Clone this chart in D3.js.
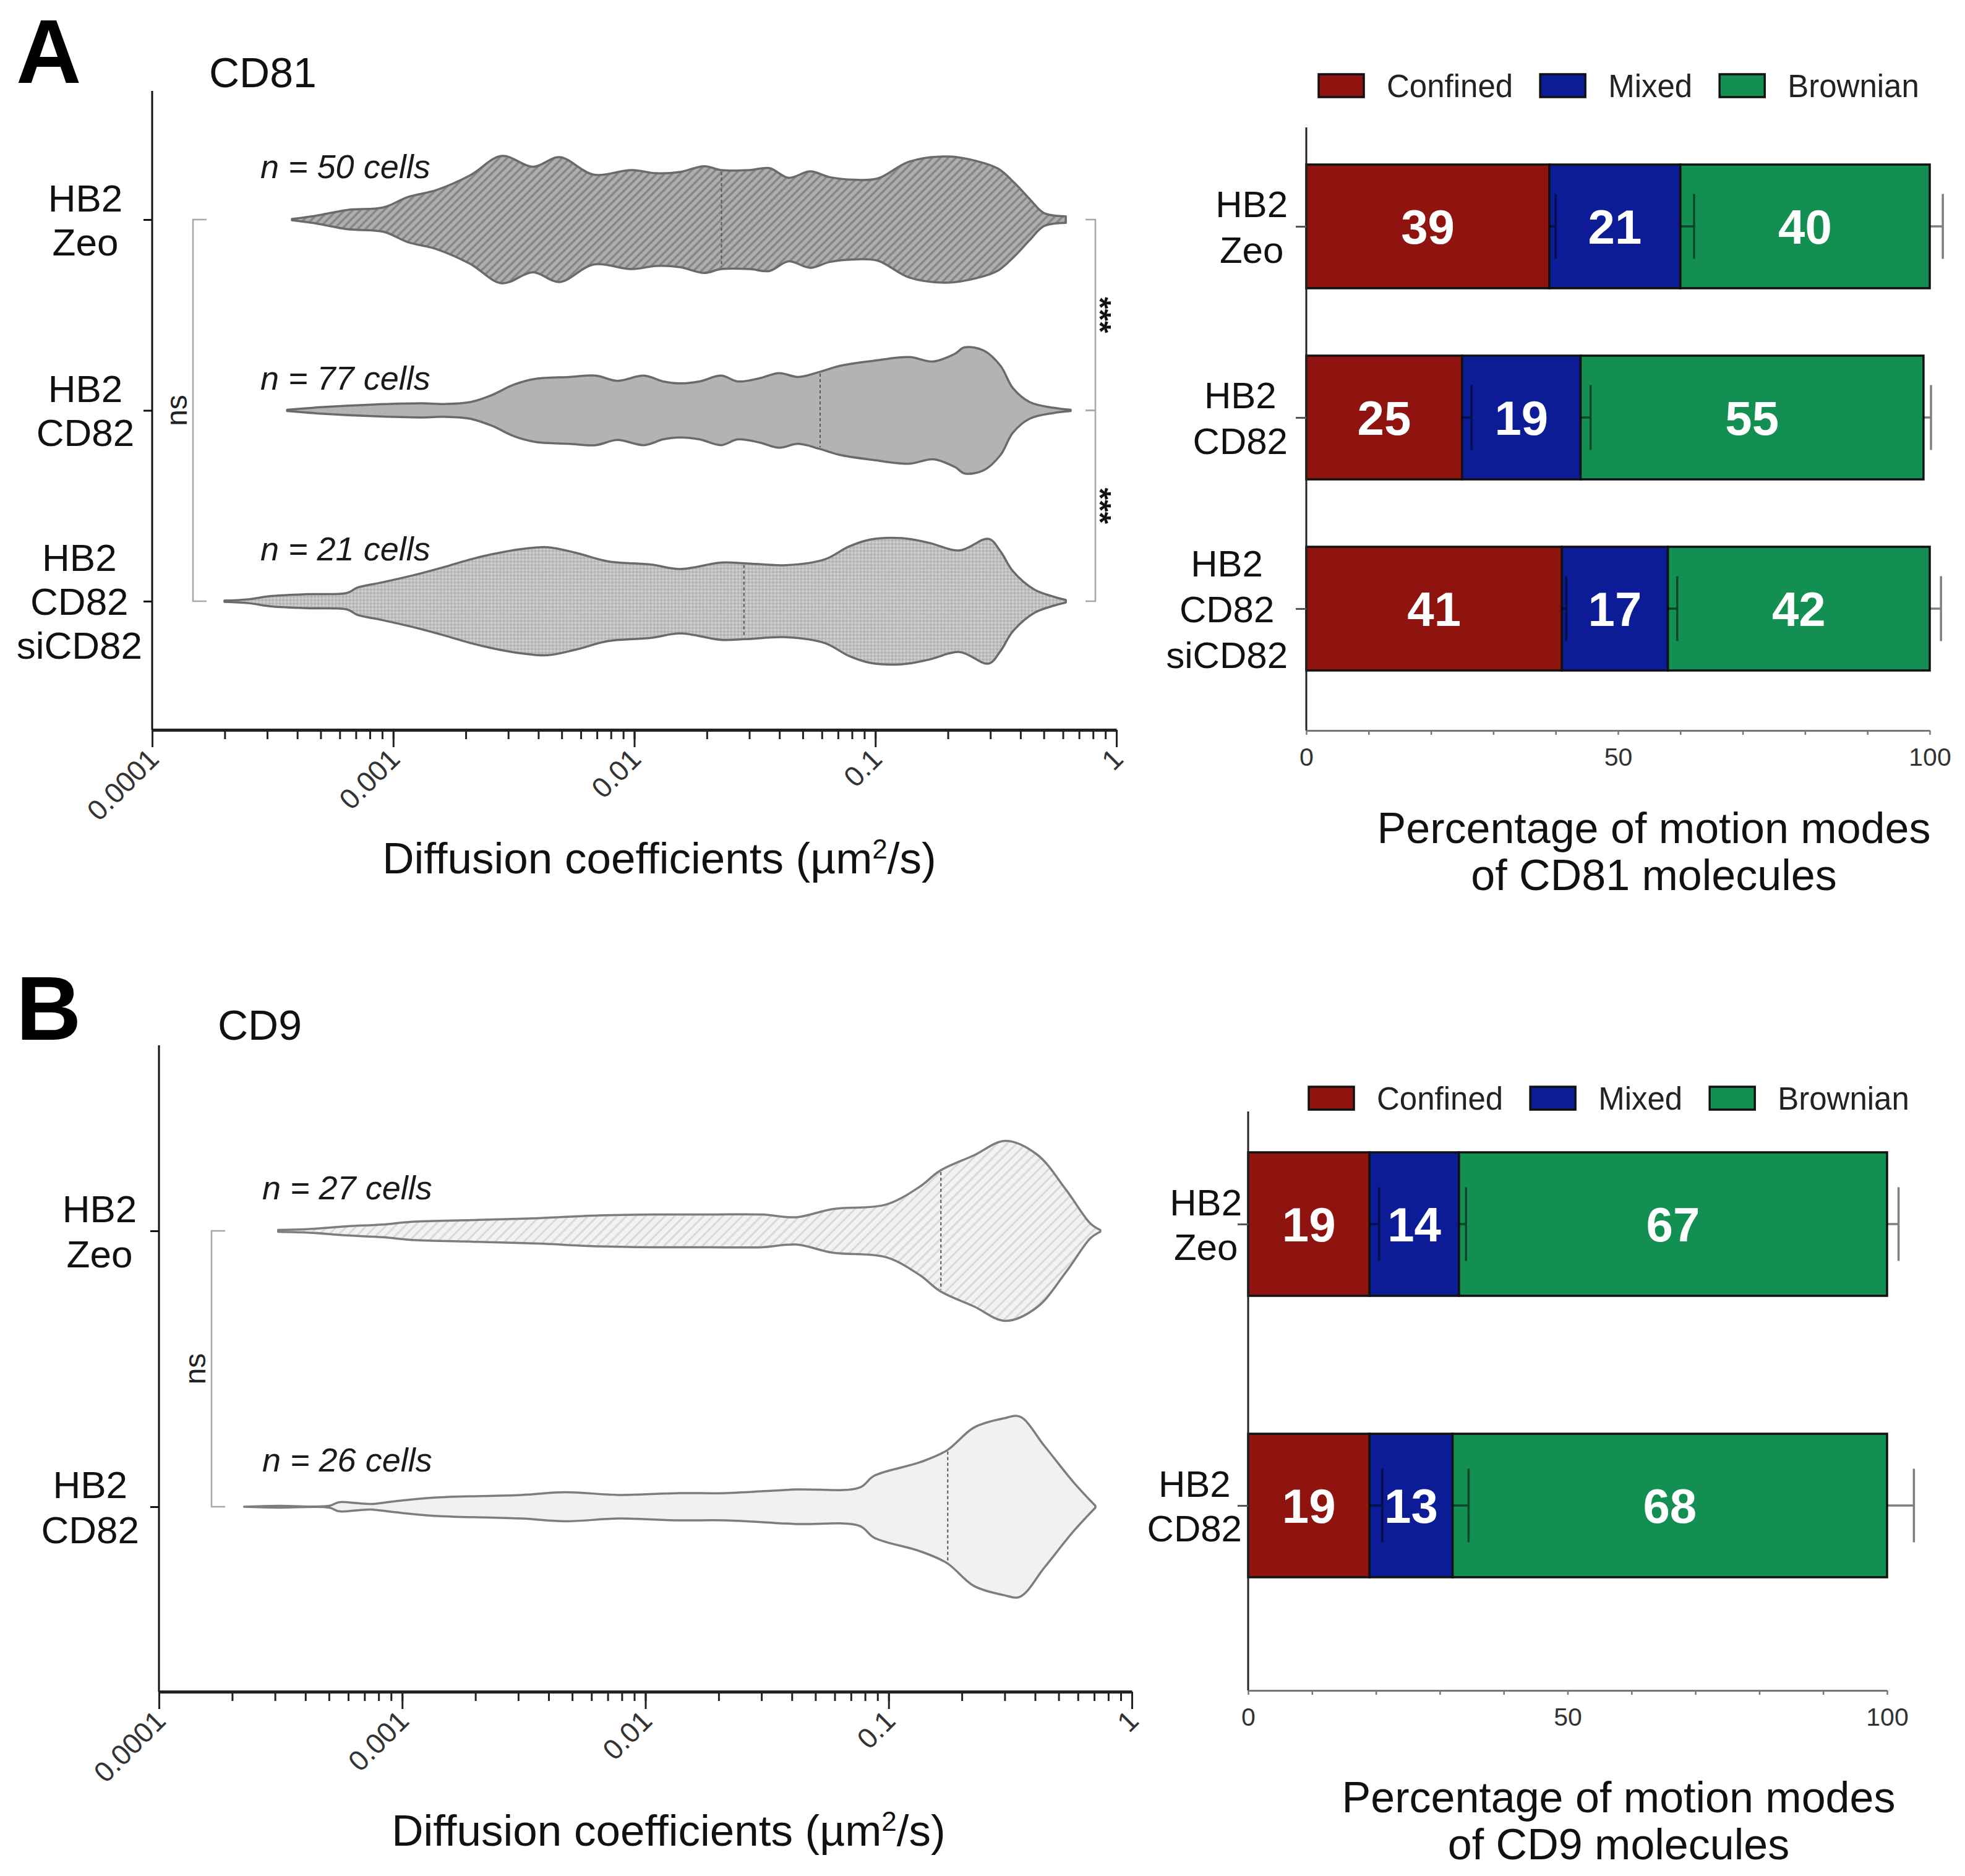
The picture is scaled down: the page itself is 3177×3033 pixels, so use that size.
<!DOCTYPE html>
<html>
<head>
<meta charset="utf-8">
<script src="https://cdn.jsdelivr.net/npm/d3@7"></script>
<style>
  body { margin: 0; background: #fff; }
  text { font-family: "Liberation Sans", Arial, Helvetica, sans-serif; }
</style>
</head>
<body>
<svg id="fig" width="3177" height="3033"></svg>
<script>
/*
Motion of CD81 / CD9 molecules: violin plots of diffusion coefficients + stacked motion modes
*/

// ---- data ----
const groupsCD81 = [["HB2", "Zeo"], ["HB2", "CD82"], ["HB2", "CD82", "siCD82"]];
const groupsCD9 = [["HB2", "Zeo"], ["HB2", "CD82"]];
const cellsCD81 = [50, 77, 21];
const cellsCD9 = [27, 26];
const mediansCD81 = [0.023, 0.059, 0.0285];
const mediansCD9 = [0.164, 0.175];

// violin outlines: [log10 D (µm²/s), relative half-width]
const cd81Zeo = [[-3.42,0.01],[-3.32,0.06],[-3.19,0.15],[-3.04,0.19],[-2.94,0.35],[-2.82,0.46],[-2.68,0.69],[-2.55,0.99],[-2.42,0.82],[-2.31,0.97],[-2.17,0.70],[-2.01,0.77],[-1.91,0.72],[-1.81,0.74],[-1.71,0.83],[-1.64,0.77],[-1.52,0.77],[-1.44,0.80],[-1.36,0.65],[-1.27,0.75],[-1.19,0.66],[-1.09,0.62],[-0.99,0.64],[-0.86,0.90],[-0.70,0.98],[-0.58,0.91],[-0.49,0.79],[-0.42,0.56],[-0.36,0.32],[-0.30,0.10],[-0.21,0.05]];
const cd81Cd82 = [[-3.44,0.01],[-3.30,0.05],[-3.09,0.09],[-2.88,0.11],[-2.78,0.10],[-2.68,0.13],[-2.59,0.24],[-2.50,0.40],[-2.41,0.49],[-2.27,0.52],[-2.16,0.54],[-2.07,0.46],[-1.96,0.54],[-1.88,0.45],[-1.81,0.42],[-1.73,0.45],[-1.64,0.54],[-1.57,0.45],[-1.48,0.50],[-1.40,0.58],[-1.32,0.52],[-1.23,0.60],[-1.15,0.69],[-1.01,0.77],[-0.86,0.83],[-0.76,0.76],[-0.67,0.88],[-0.63,0.98],[-0.55,0.93],[-0.48,0.69],[-0.43,0.35],[-0.36,0.13],[-0.26,0.04],[-0.19,0.01]];
const cd81Si = [[-3.70,0.01],[-3.60,0.03],[-3.51,0.08],[-3.35,0.11],[-3.19,0.13],[-3.15,0.21],[-3.05,0.29],[-2.92,0.40],[-2.79,0.53],[-2.68,0.65],[-2.59,0.73],[-2.47,0.81],[-2.36,0.84],[-2.24,0.75],[-2.11,0.62],[-1.93,0.57],[-1.81,0.50],[-1.64,0.60],[-1.54,0.59],[-1.37,0.56],[-1.21,0.65],[-1.11,0.85],[-1.02,0.96],[-0.89,0.98],[-0.78,0.91],[-0.65,0.79],[-0.53,0.97],[-0.48,0.77],[-0.43,0.47],[-0.34,0.18],[-0.26,0.07],[-0.21,0.02]];
const cd9Zeo = [[-3.51,0.01],[-3.38,0.02],[-3.23,0.05],[-3.08,0.07],[-2.96,0.10],[-2.69,0.12],[-2.44,0.14],[-2.19,0.17],[-1.96,0.18],[-1.73,0.18],[-1.52,0.18],[-1.38,0.15],[-1.23,0.24],[-1.01,0.29],[-0.87,0.49],[-0.79,0.66],[-0.65,0.83],[-0.52,0.99],[-0.39,0.84],[-0.27,0.45],[-0.17,0.08],[-0.13,0.01]];
const cd9Cd82 = [[-3.65,0.00],[-3.51,0.01],[-3.30,0.01],[-3.26,0.05],[-3.19,0.04],[-3.13,0.03],[-3.03,0.06],[-2.87,0.10],[-2.51,0.13],[-2.33,0.16],[-2.11,0.13],[-1.86,0.15],[-1.67,0.15],[-1.38,0.19],[-1.12,0.21],[-1.06,0.34],[-0.87,0.49],[-0.76,0.62],[-0.65,0.87],[-0.53,0.97],[-0.46,0.99],[-0.36,0.67],[-0.24,0.27],[-0.15,0.01]];

const diffTicks = [0.0001, 0.001, 0.01, 0.1, 1];
const diffTickLabels = ["0.0001", "0.001", "0.01", "0.1", "1"];

// motion modes (%)
const modes = ["Confined", "Mixed", "Brownian"];
const modeColors = ["#8f1410", "#0b1c96", "#138f52"];
const pctCD81 = [[39, 21, 40], [25, 19, 55], [41, 17, 42]];
const errCD81 = [[1.0, 2.2, 2.1], [1.5, 1.6, 1.2], [0.7, 1.5, 1.8]];
const pctCD9 = [[19, 14, 67], [19, 13, 68]];
const errCD9 = [[1.5, 1.1, 1.8], [2.0, 2.5, 4.2]];
const pctTicks = [0, 10, 20, 30, 40, 50, 60, 70, 80, 90, 100];
const pctTickLabels = { 0: "0", 50: "50", 100: "100" };

// ---- setup ----
const svg = d3.select('#fig');
svg.append('rect').attr('width', 3177).attr('height', 3033).attr('fill', '#fff');
const defs = svg.append('defs');

// Striped pattern for violins
function stripes(id, bg, fg, size, lw){
    const p = defs.append('pattern').attr('id', id)
        .attr('patternUnits', 'userSpaceOnUse')
        .attr('width', size).attr('height', size)
        .attr('patternTransform', 'rotate(45)');
    p.append('rect').attr('width', size).attr('height', size).attr('fill', bg);
    p.append('line').attr('x1', size/2).attr('x2', size/2).attr('y1', 0).attr('y2', size)
        .attr('stroke', fg).attr('stroke-width', lw);
}
stripes('hatchA', '#afafaf', '#858585', 9, 3.5);
stripes('hatchB', '#f2f2f2', '#d9d9d9', 11, 3);

// Fine checker for siCD82
const chk = defs.append('pattern').attr('id', 'checkA')
    .attr('patternUnits', 'userSpaceOnUse').attr('width', 8).attr('height', 8)
    .attr('patternTransform', 'rotate(45)');
chk.append('rect').attr('width', 8).attr('height', 8).attr('fill', '#cdcdcd');
chk.append('rect').attr('width', 4).attr('height', 4).attr('fill', '#b4b4b4');
chk.append('rect').attr('x', 4).attr('y', 4).attr('width', 4).attr('height', 4).attr('fill', '#b4b4b4');

// Multi-line category label, centred on cy
function groupLabel(g, lines, cy, fs, step, cMax, right){
    const t = g.append('text').attr('text-anchor', 'middle').attr('font-size', fs).attr('fill', '#111');
    const n = lines.length;
    const spans = lines.map((s, i) => t.append('tspan')
        .attr('y', cy + (i - (n - 1)/2)*step + fs*0.36).text(s));
    const maxW = d3.max(spans, s => s.node().getComputedTextLength());
    const cx = Math.min(cMax, right - maxW/2);
    spans.forEach(s => s.attr('x', cx));
}

// Density value at the median, for the dashed line
function densityAt(profile, logD){
    const i = Math.max(1, d3.bisector(d => d[0]).left(profile, logD));
    const a = profile[i - 1], b = profile[i];
    const t = (logD - a[0]) / (b[0] - a[0]);
    return a[1] + t*(b[1] - a[1]);
}

// ---- violin panel ----
function violinPanel(o){
    const g = svg.append('g');
    const x = d3.scaleLog().domain([1e-4, 1]).range(o.xRange);
    const keys = o.groups.map(d => d.join(' '));
    const y = d3.scalePoint().domain(keys).range(o.yRange);
    const w = d3.scaleLinear().domain([0, 1]).range([0, o.maxHalf]);
    const x0 = o.xRange[0];

    // violins
    o.profiles.forEach((prof, i) => {
        const cy = y(keys[i]);
        const area = d3.area().curve(d3.curveCatmullRom)
            .x(d => x(Math.pow(10, d[0])))
            .y0(d => cy - w(d[1]))
            .y1(d => cy + w(d[1]));
        g.append('path').datum(prof).attr('d', area)
            .attr('fill', o.fills[i]).attr('stroke', o.stroke)
            .attr('stroke-width', 3.5).attr('stroke-linejoin', 'round');

        const m = o.medians[i];
        const hm = w(densityAt(prof, Math.log10(m)));
        g.append('line').attr('x1', x(m)).attr('x2', x(m))
            .attr('y1', cy - hm + 3).attr('y2', cy + hm - 3)
            .attr('stroke', '#555').attr('stroke-width', 2).attr('stroke-dasharray', '5,4');

        g.append('text').attr('x', o.nX).attr('y', cy + o.nDy[i])
            .attr('font-size', 54).attr('font-style', 'italic').attr('fill', '#1a1a1a')
            .text(`n = ${o.cells[i]} cells`);

        groupLabel(g, o.groups[i], cy, 62, o.lineStep, o.labelCMax, o.labelRight);
    });

    // y axis
    g.append('line').attr('x1', x0).attr('x2', x0).attr('y1', o.yAxisTop).attr('y2', o.axisY)
        .attr('stroke', '#111').attr('stroke-width', 3);
    const ya = g.append('g').attr('transform', `translate(${x0},0)`)
        .call(d3.axisLeft(y).tickSize(14).tickFormat(''));
    ya.select('.domain').remove();
    ya.selectAll('.tick line').attr('stroke', '#111').attr('stroke-width', 3);

    // x axis: minor then major ticks
    const gx = g.append('g').attr('transform', `translate(0,${o.axisY})`)
        .call(d3.axisBottom(x).tickValues(x.ticks()).tickFormat('').tickSize(15).tickSizeOuter(0));
    gx.select('.domain').attr('stroke', '#222').attr('stroke-width', 5);
    gx.selectAll('.tick line').attr('stroke', '#222').attr('stroke-width', 3);
    const gm = g.append('g').attr('transform', `translate(0,${o.axisY})`)
        .call(d3.axisBottom(x).tickValues(diffTicks).tickFormat((d, i) => diffTickLabels[i]).tickSize(28));
    gm.select('.domain').remove();
    gm.selectAll('.tick line').attr('stroke', '#222').attr('stroke-width', 3);
    gm.selectAll('.tick text')
        .attr('y', 0).attr('dy', 0)
        .attr('text-anchor', 'end')
        .attr('transform', 'translate(13,50) rotate(-45)')
        .attr('font-size', 46).attr('fill', '#333')
        .attr('font-family', '"Liberation Sans", Arial, sans-serif');

    // axis title
    const t = g.append('text').attr('x', o.titleX).attr('y', o.titleY)
        .attr('text-anchor', 'middle').attr('font-size', 71).attr('fill', '#111');
    t.append('tspan').text('Diffusion coefficients (µm');
    t.append('tspan').attr('font-size', 44).attr('dy', -24).text('2');
    t.append('tspan').attr('dy', 24).text('/s)');

    // panel letter and title
    g.append('text').attr('x', o.letterX).attr('y', o.letterY).attr('font-size', 146)
        .attr('font-weight', 'bold').attr('fill', '#000').text(o.letter);
    g.append('text').attr('x', o.nameX).attr('y', o.letterY + o.nameDy).attr('font-size', 68)
        .attr('fill', '#111').text(o.name);

    // significance brackets
    const bg = g.append('g').attr('fill', 'none').attr('stroke', '#a8a8a8').attr('stroke-width', 2.5);
    const ns = o.nsBracket;
    const ya0 = y(keys[ns[0]]), ya1 = y(keys[ns[1]]);
    bg.append('path').attr('d', `M${o.nsX + 22},${ya0}H${o.nsX}V${ya1}H${o.nsX + 22}`);
    g.append('text').attr('transform', `translate(${o.nsX - 22},${(ya0 + ya1)/2}) rotate(-90)`)
        .attr('text-anchor', 'middle').attr('dy', '0.26em').attr('font-size', 48).attr('fill', '#222').text('ns');

    if(o.starBrackets){
        o.starBrackets.forEach(p => {
            const a = y(keys[p[0]]), b = y(keys[p[1]]);
            bg.append('path').attr('d', `M${o.starX - 16},${a}H${o.starX}V${b}H${o.starX - 16}`);
            g.append('text').attr('transform', `translate(${o.starX + 15},${(a + b)/2}) rotate(90)`)
                .attr('text-anchor', 'middle').attr('dy', '0.5em').attr('font-size', 50)
                .attr('font-weight', 'bold').attr('fill', '#111').text('***');
        });
    }
}

// ---- stacked bar panel ----
function barPanel(o){
    const g = svg.append('g');
    const x = d3.scaleLinear().domain([0, 100]).range(o.xRange);
    const keys = o.groups.map(d => d.join(' '));
    const y = d3.scalePoint().domain(keys).range(o.yRange);
    const x0 = o.xRange[0];

    // legend
    let lx = o.legendX;
    modes.forEach((m, j) => {
        g.append('rect').attr('x', lx).attr('y', o.legendY - 37).attr('width', 73).attr('height', 37)
            .attr('fill', modeColors[j]).attr('stroke', '#111').attr('stroke-width', 3.5);
        const t = g.append('text').attr('x', lx + 73 + 37).attr('y', o.legendY)
            .attr('font-size', 51).attr('fill', '#222').text(m);
        lx = lx + 73 + 37 + t.node().getComputedTextLength() + 44;
    });

    o.values.forEach((row, i) => {
        const cy = y(keys[i]);
        let cum = 0;
        row.forEach((v, j) => {
            g.append('rect').attr('x', x(cum)).attr('y', cy - o.barH/2)
                .attr('width', x(cum + v) - x(cum)).attr('height', o.barH)
                .attr('fill', modeColors[j]).attr('stroke', '#111').attr('stroke-width', 3.5);
            cum += v;
        });
        cum = 0;
        row.forEach((v, j) => {
            cum += v;
            const e = o.errors[i][j];
            g.append('path')
                .attr('d', `M${x(cum)},${cy}H${x(cum + e)}M${x(cum + e)},${cy - o.capH/2}V${cy + o.capH/2}`)
                .attr('fill', 'none').attr('stroke', '#000').attr('stroke-opacity', 0.5).attr('stroke-width', 3.5);
        });
        cum = 0;
        row.forEach((v, j) => {
            g.append('text').attr('x', x(cum + v/2)).attr('y', cy + 28)
                .attr('text-anchor', 'middle').attr('font-size', 78).attr('font-weight', 'bold')
                .attr('fill', '#fff').text(v);
            cum += v;
        });
        groupLabel(g, o.groups[i], cy, 60, o.lineStep, 1e9, o.labelRight);
    });

    // y axis
    g.append('line').attr('x1', x0).attr('x2', x0).attr('y1', o.yAxisTop).attr('y2', o.axisY)
        .attr('stroke', '#222').attr('stroke-width', 3);
    const ya = g.append('g').attr('transform', `translate(${x0},0)`)
        .call(d3.axisLeft(y).tickSize(17).tickFormat(''));
    ya.select('.domain').remove();
    ya.selectAll('.tick line').attr('stroke', '#555').attr('stroke-width', 3);

    // x axis
    const gx = g.append('g').attr('transform', `translate(0,${o.axisY})`)
        .call(d3.axisBottom(x).tickValues(pctTicks).tickFormat(d => pctTickLabels[d] || '')
            .tickSize(7).tickSizeOuter(0).tickPadding(21));
    gx.select('.domain').attr('stroke', '#777').attr('stroke-width', 3);
    gx.selectAll('.tick line').attr('stroke', '#777').attr('stroke-width', 2.5);
    gx.selectAll('.tick text').attr('font-size', 41).attr('fill', '#333')
        .attr('font-family', '"Liberation Sans", Arial, sans-serif');

    // axis title
    const cx = o.titleX;
    g.append('text').attr('x', cx).attr('y', o.titleY).attr('text-anchor', 'middle')
        .attr('font-size', 70).attr('fill', '#111').text('Percentage of motion modes');
    g.append('text').attr('x', cx).attr('y', o.titleY + 76).attr('text-anchor', 'middle')
        .attr('font-size', 70).attr('fill', '#111').text(`of ${o.name} molecules`);
}

// ---- panel A ----
violinPanel({
    letter: 'A', letterX: 26, letterY: 134, name: 'CD81', nameX: 338, nameDy: 7,
    groups: groupsCD81, cells: cellsCD81, medians: mediansCD81,
    profiles: [cd81Zeo, cd81Cd82, cd81Si],
    fills: ['url(#hatchA)', '#b3b3b3', 'url(#checkA)'], stroke: '#6a6a6a',
    xRange: [246, 1805], yRange: [355, 972], maxHalf: 104,
    axisY: 1180, yAxisTop: 147,
    nX: 421, nDy: [-67, -34, -66],
    lineStep: 71, labelCMax: 138, labelRight: 230,
    titleX: 1066, titleY: 1412,
    nsX: 312, nsBracket: [0, 2],
    starX: 1771, starBrackets: [[0, 1], [1, 2]]
});

barPanel({
    name: 'CD81', groups: groupsCD81, values: pctCD81, errors: errCD81,
    xRange: [2112, 3120], yRange: [366, 984], barH: 200, capH: 105,
    yAxisTop: 206, axisY: 1181,
    legendX: 2132, legendY: 157,
    lineStep: 74, labelRight: 2082,
    titleX: 2674, titleY: 1363
});

// ---- panel B ----
violinPanel({
    letter: 'B', letterX: 26, letterY: 1681, name: 'CD9', nameX: 352, nameDy: 0,
    groups: groupsCD9, cells: cellsCD9, medians: mediansCD9,
    profiles: [cd9Zeo, cd9Cd82],
    fills: ['url(#hatchB)', '#f1f1f1'], stroke: '#7d7d7d',
    xRange: [257, 1830], yRange: [1990, 2436], maxHalf: 147,
    axisY: 2735, yAxisTop: 1690,
    nX: 424, nDy: [-51, -57],
    lineStep: 73, labelCMax: 161, labelRight: 225,
    titleX: 1081, titleY: 2984,
    nsX: 342, nsBracket: [0, 1]
});

barPanel({
    name: 'CD9', groups: groupsCD9, values: pctCD9, errors: errCD9,
    xRange: [2018, 3051], yRange: [1979, 2434], barH: 232, capH: 119,
    yAxisTop: 1797, axisY: 2733,
    legendX: 2116, legendY: 1794,
    lineStep: 72, labelRight: 2008,
    titleX: 2617, titleY: 2930
});
</script>
</body>
</html>
